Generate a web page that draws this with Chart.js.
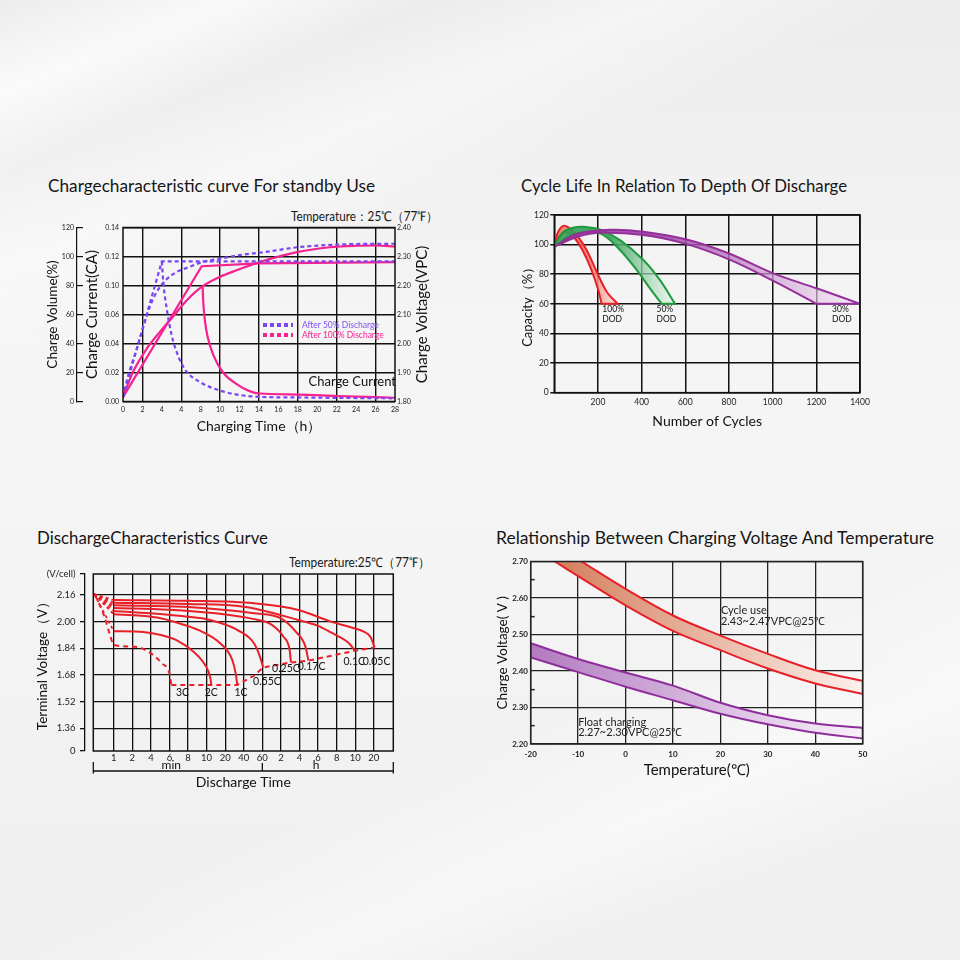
<!DOCTYPE html>
<html><head><meta charset="utf-8">
<script src="https://cdn.jsdelivr.net/npm/chart.js@4.4.1/dist/chart.umd.min.js"></script>
<style>
html,body{margin:0;padding:0;}
body{width:960px;height:960px;position:relative;overflow:hidden;font-family:Lato,'Open Sans',sans-serif;color:#161616;
background:
 linear-gradient(158deg, rgba(255,255,255,0) 0%, rgba(255,255,255,.7) 7%, rgba(255,255,255,0) 13%, rgba(255,255,255,.45) 20%, rgba(255,255,255,0) 28%, rgba(255,255,255,0) 70%, rgba(255,255,255,.5) 80%, rgba(255,255,255,0) 88%),
 linear-gradient(180deg,#ececec 0%, #f5f5f5 35%, #f4f4f4 60%, #efefef 100%);}
canvas{position:absolute;}
.t{position:absolute;white-space:nowrap;line-height:1;transform-origin:0 0;}
.lg{position:absolute;width:30px;height:4px;}
</style></head><body>
<div class="t" data-w="327" style="left:48px;top:176px;font-size:18px">Chargecharacteristic curve For standby Use</div>
<div class="t" data-w="147" style="left:291px;top:210px;font-size:13px">Temperature：25℃（77℉）</div>
<div class="t" data-w="326" style="left:521px;top:176px;font-size:18px">Cycle Life In Relation To Depth Of Discharge</div>
<div class="t" data-w="231" style="left:37px;top:528px;font-size:18px">DischargeCharacteristics Curve</div>
<div class="t" data-w="438" style="left:496px;top:528px;font-size:18px">Relationship Between Charging Voltage And Temperature</div>
<div class="t" data-w="141" style="left:289px;top:556px;font-size:13px">Temperature:25℃（77℉）</div>

<canvas id="c1" width="410" height="230" style="left:30px;top:210px"></canvas>
<canvas id="c2" width="385" height="235" style="left:505px;top:205px"></canvas>
<canvas id="c3" width="410" height="240" style="left:30px;top:560px"></canvas>
<canvas id="c4" width="390" height="240" style="left:490px;top:550px"></canvas>

<div class="lg" style="left:263px;top:323px;background:repeating-linear-gradient(90deg,#7b45f2 0 4px,transparent 4px 7px)"></div>
<div class="t" style="left:302px;top:321px;font-size:8.5px;color:#7f4ff0">After 50% Discharge</div>
<div class="lg" style="left:263px;top:333px;background:repeating-linear-gradient(90deg,#f7208f 0 4px,transparent 4px 7px)"></div>
<div class="t" style="left:302px;top:331px;font-size:8.5px;color:#f7208f">After 100% Discharge</div>

<script>
// ---------- Chart 1: charge characteristic ----------
const c1HourLabels = ['0','2','4','4','8','10','12','14','16','18','20','22','24','26','28'];
const c1GridHours = [2, 6, 10, 14, 18, 22, 26];
const c1CurrentLabels = ['0.00','0.02','0.04','0.06','0.10','0.12','0.14'];
const c1VolumeLabels = ['0','20','40','60','80','100','120'];
const c1VoltageLabels = ['1.80','1.90','2.00','2.10','2.20','2.30','2.40'];

const c1Volt50Hours = [0, 4.0, 28];
const c1Volt50Pct = [3, 96.6, 96.6];
const c1Vol50Hours = [0, 0.5, 1.4, 2.8, 3.8, 5.2, 6.9, 8.1, 10, 12, 14.5, 18, 21.3, 24, 28];
const c1Vol50Pct = [3, 17, 36, 66, 79, 88, 93, 96, 98.5, 101, 103, 106.4, 108, 108.6, 108.8];
const c1Cur50Hours = [4.0, 4.15, 4.5, 5.0, 5.7, 6.5, 7.9, 10, 12, 14, 18, 22, 28];
const c1Cur50Pct = [96.6, 82, 64, 46, 31, 21, 13.5, 7.5, 4.5, 3.2, 2.8, 2.5, 2.2];

const c1Volt100Hours = [0, 8.1, 14, 28];
const c1Volt100Pct = [3, 93.3, 95.2, 96.1];
const c1Vol100Hours = [0, 1, 2.4, 3.8, 5.2, 6.6, 8.1, 10, 11.7, 14, 17.9, 21.3, 24, 26, 28];
const c1Vol100Pct = [3, 20, 36, 48, 59, 70, 79, 86, 90.5, 96, 103, 106.4, 107.4, 107.6, 106.9];
const c1Cur100Hours = [8.2, 8.25, 8.45, 8.7, 9.3, 10.3, 11.7, 12.9, 14, 18, 22, 28];
const c1Cur100Pct = [79, 70, 55, 45, 32, 20, 12, 7.5, 5.5, 4.8, 3.8, 2.6];

// ---------- Chart 2: cycle life ----------
const c2RedOuterX = [0, 18, 41, 64, 102, 148, 194, 240, 290];
const c2RedOuterY = [100.5, 108.7, 112.6, 111.7, 106.5, 96.4, 81.7, 68.2, 60];
const c2RedInnerX = [0, 26, 55, 90, 130, 170, 200, 217];
const c2RedInnerY = [99.5, 106, 108.5, 105, 96, 83, 70, 60];
const c2GreenOuterX = [0, 41, 90, 136, 209, 301, 408, 484, 553];
const c2GreenOuterY = [99, 108.5, 111.5, 112, 110.3, 103, 89.6, 76, 60];
const c2GreenInnerX = [0, 72, 163, 224, 301, 377, 438, 492];
const c2GreenInnerY = [98.5, 105.8, 108.7, 106.5, 96.4, 83, 70.5, 60];
const c2PurpleOuterX = [0, 100, 255, 408, 602, 800, 1003, 1201, 1400];
const c2PurpleOuterY = [98.6, 107, 110, 108.7, 103.6, 94, 80.6, 70.5, 60];
const c2PurpleInnerX = [0, 100, 200, 408, 602, 800, 1003, 1201];
const c2PurpleInnerY = [98.6, 105, 108, 106.5, 100.5, 90, 75.5, 60];
const c2NoteText = ['100%', 'DOD', '50%', 'DOD', '30%', 'DOD'];
const c2NoteX = [220, 220, 468, 468, 1272, 1272];
const c2NoteY = [56.5, 49.3, 56.5, 49.3, 56.5, 49.3];

// ---------- Chart 3: discharge characteristics ----------
const c3TimeLabels = ['1','2','4','6','8','10','20','40','60','2','4','6','8','10','20'];
const c3VoltTicks = [1.36, 1.52, 1.68, 1.84, 2.00, 2.16];
const c3VoltLabels = ['0','1.36','1.52','1.68','1.84','2.00','2.16','(V/cell)'];
const c3Min = 1.2235, c3Max = 2.286;
const c3RateNames = ['0.05C','0.1C','0.17C','0.25C','0.55C','1C','2C'];
const c3RateIdx = [
  [0, 4, 7.55, 9.94, 11.69, 12.8, 13.46, 13.84, 14.04],
  [0, 4, 7, 9.94, 11.0, 11.69, 12.62, 13.0],
  [0, 4, 7.55, 9, 9.8, 10.32, 10.48],
  [0, 3, 5.5, 7.55, 8.45, 9.14, 9.47, 9.54],
  [0, 2, 3.5, 4.77, 5.8, 6.67, 7.55, 7.9, 8.04],
  [0, 1.5, 2.53, 3.8, 4.77, 5.73, 6.38, 6.58, 6.65],
  [0, 1.6, 2.6, 3.4, 4.3, 4.8, 5.1, 5.22, 5.25]
];
const c3RateV = [
  [2.13, 2.125, 2.11, 2.07, 2.0, 1.965, 1.94, 1.905, 1.845],
  [2.114, 2.106, 2.09, 2.01, 1.975, 1.935, 1.875, 1.826],
  [2.098, 2.088, 2.05, 2.02, 1.94, 1.85, 1.766],
  [2.082, 2.072, 2.05, 2.015, 1.985, 1.909, 1.83, 1.755],
  [2.064, 2.05, 2.035, 2.02, 1.99, 1.949, 1.87, 1.78, 1.725],
  [2.044, 2.035, 2.02, 1.98, 1.939, 1.87, 1.77, 1.68, 1.62],
  [1.943, 1.938, 1.918, 1.888, 1.82, 1.76, 1.70, 1.65, 1.62]
];
const c3Rate3CIdx = [-1.0, -0.5, -0.2, 0, 1.17, 2.0, 2.6, 3.0, 3.1];
const c3Rate3CV = [2.16, 2.03, 1.92, 1.86, 1.849, 1.81, 1.749, 1.689, 1.62];
const c3FanIdx = -1.05, c3FanV = 2.165;
const c3CutIdx = [3.1, 5.25, 6.65, 7.05, 7.55, 8.04, 9.54, 10.48, 13.0, 14.04];
const c3CutV = [1.62, 1.62, 1.62, 1.645, 1.675, 1.725, 1.755, 1.766, 1.826, 1.845];
const c3LabelText = ['3C','2C','1C','0.55C','0.25C','0.17C','0.1C','0.05C'];
const c3LabelIdx = [3.7, 5.25, 6.85, 8.25, 9.27, 10.65, 12.95, 14.15];
const c3LabelV = [1.575, 1.575, 1.575, 1.638, 1.719, 1.729, 1.763, 1.763];
const c3UnitLabels = ['min', 'h'];
const c3UnitAt = [3.1, 10.9];
const c3UnitSplit = 8;

// ---------- Chart 4: charging voltage vs temperature ----------
const c4CycleUpperT = [-9.3, 0, 10, 20, 30, 40, 50];
const c4CycleUpperV = [2.70, 2.625, 2.552, 2.497, 2.447, 2.402, 2.373];
const c4CycleLowerT = [-14.9, -10, 0, 10, 20, 30, 40, 50];
const c4CycleLowerV = [2.70, 2.66, 2.58, 2.51, 2.457, 2.407, 2.366, 2.337];
const c4FloatT = [-20, -10, 0, 10, 20, 30, 40, 50];
const c4FloatUpperV = [2.476, 2.433, 2.396, 2.36, 2.313, 2.279, 2.256, 2.244];
const c4FloatLowerV = [2.437, 2.397, 2.357, 2.32, 2.283, 2.254, 2.231, 2.215];
const c4NoteText = ['Cycle use', '2.43~2.47VPC@25℃', 'Float charging', '2.27~2.30VPC@25℃'];
const c4NoteT = [20.1, 20.1, -10, -10];
const c4NoteV = [2.566, 2.536, 2.259, 2.231];

// ---------- helpers ----------
const INK = '#111';
const PINK = '#f7208f', PURPLE = '#7b45f2';
const RED = '#e8202a', GREEN = '#1f9a3e', VIOLET = '#952f9a', FLOATV = '#8e2e9c';
const FONT = "Lato, 'Open Sans', sans-serif";
Chart.defaults.font.family = FONT;
Chart.defaults.color = '#151515';
Chart.defaults.animation = false;
Chart.defaults.plugins.legend.display = false;
Chart.defaults.plugins.tooltip.enabled = false;
Chart.defaults.elements.point.radius = 0;

const fitW = w => s => { s.width = w; };
const fitH = h => s => { s.height = h; };
const pts = (xs, ys) => xs.map((x, i) => ({x, y: ys[i]}));
function band(xa, ya, xb, yb, close) {
  const a = pts(xa, ya), b = pts(xb, yb).reverse();
  const out = [...a, {...a[a.length - 1]}, {...b[0]}, ...b];
  if (close) out.push({...b[b.length - 1]}, {...a[0]});
  return out;
}
function hGrad(x0, x1, c0, c1) {
  return (ctx) => {
    const ch = ctx.chart;
    if (!ch.chartArea) return c1;
    const xs = ch.scales.x;
    const g = ch.ctx.createLinearGradient(xs.getPixelForValue(x0), 0, xs.getPixelForValue(x1), 0);
    g.addColorStop(0, c0); g.addColorStop(1, c1);
    return g;
  };
}
const frame = {
  id: 'frame',
  afterDatasetsDraw(chart, args, o) {
    const {ctx, chartArea: a} = chart;
    ctx.save(); ctx.strokeStyle = o.color || INK; ctx.lineWidth = o.width || 1.5;
    ctx.strokeRect(a.left, a.top, a.right - a.left, a.bottom - a.top);
    ctx.restore();
  }
};
const notes = {
  id: 'notes',
  afterDatasetsDraw(chart, args, o) {
    const {ctx, scales} = chart;
    ctx.save();
    ctx.font = o.font; ctx.fillStyle = o.color || INK;
    ctx.textAlign = o.align || 'left'; ctx.textBaseline = 'middle';
    (o.text || []).forEach((t, i) => {
      ctx.fillText(t, scales.x.getPixelForValue(o.x[i]), scales.y.getPixelForValue(o.y[i]));
    });
    ctx.restore();
  }
};
const sideTitle = {
  id: 'sideTitle',
  afterDraw(chart, args, o) {
    const s = chart.scales[o.scale];
    const {ctx, chartArea: a} = chart;
    ctx.save();
    ctx.translate(s.left + o.offset, (a.top + a.bottom) / 2);
    ctx.rotate(-Math.PI / 2);
    ctx.font = o.font; ctx.fillStyle = INK; ctx.textAlign = 'center'; ctx.textBaseline = 'middle';
    ctx.fillText(o.text, 0, 0);
    ctx.restore();
  }
};
const bracket = {
  id: 'bracket',
  afterDraw(chart, args, o) {
    const {ctx, chartArea: a, scales: {x}} = chart;
    const yb = a.bottom + 20;
    ctx.save(); ctx.strokeStyle = INK; ctx.lineWidth = 1.3;
    ctx.beginPath();
    ctx.moveTo(a.left, yb); ctx.lineTo(a.right, yb);
    ctx.moveTo(a.left, yb - 9); ctx.lineTo(a.left, yb + 2.5);
    ctx.moveTo(a.right, yb - 9); ctx.lineTo(a.right, yb + 2.5);
    const xm = x.getPixelForValue(o.split);
    ctx.moveTo(xm, yb - 8); ctx.lineTo(xm, yb);
    ctx.stroke();
    ctx.font = o.font; ctx.fillStyle = INK; ctx.textAlign = 'center'; ctx.textBaseline = 'middle';
    o.labels.forEach((t, i) => ctx.fillText(t, x.getPixelForValue(o.at[i]), a.bottom + 14));
    ctx.restore();
  }
};
const base = { responsive: false, events: [], maintainAspectRatio: false };

// ---------- build chart 1 ----------
const dash = {borderDash: [4, 3], borderWidth: 2.2, borderColor: PURPLE};
const solid = {borderWidth: 2.2, borderColor: PINK};
new Chart(document.getElementById('c1'), {
  type: 'line',
  data: { datasets: [
    {...dash, data: pts(c1Volt50Hours, c1Volt50Pct), tension: 0},
    {...dash, data: pts(c1Vol50Hours, c1Vol50Pct), cubicInterpolationMode: 'monotone'},
    {...dash, data: pts(c1Cur50Hours, c1Cur50Pct), cubicInterpolationMode: 'monotone'},
    {...solid, data: pts(c1Volt100Hours, c1Volt100Pct), tension: 0},
    {...solid, data: pts(c1Vol100Hours, c1Vol100Pct), cubicInterpolationMode: 'monotone'},
    {...solid, data: pts(c1Cur100Hours, c1Cur100Pct), cubicInterpolationMode: 'monotone'}
  ]},
  options: {
    ...base,
    layout: {padding: {top: 17.5, left: 0, right: 0, bottom: 0}},
    scales: {
      x: {type: 'linear', min: 0, max: 28, afterFit: fitH(38.5),
        ticks: {stepSize: 2, autoSkip: false, maxRotation: 0, padding: 4, font: {size: 7}, color: '#222',
          callback: (v, i) => c1HourLabels[i]},
        grid: {color: c => c1GridHours.includes(c.tick && c.tick.value) ? INK : 'rgba(0,0,0,0)', lineWidth: 1.4, drawTicks: false},
        border: {display: false},
        title: {display: true, text: 'Charging Time（h）', font: {size: 14}, color: INK, padding: {top: 0, bottom: 5}}},
      y: {type: 'linear', position: 'left', min: 0, max: 120, weight: 0, afterFit: fitW(46),
        ticks: {stepSize: 20, padding: 4, font: {size: 7}, color: '#222', callback: (v, i) => c1CurrentLabels[i]},
        grid: {color: INK, lineWidth: 1.4, drawTicks: false}, border: {display: false},
        title: {display: true, text: 'Charge Current(CA)', font: {size: 15}, color: INK, padding: {top: 5.7, bottom: 0}}},
      yVol: {type: 'linear', position: 'left', min: 0, max: 120, weight: 1, afterFit: fitW(47),
        ticks: {stepSize: 20, padding: 9, font: {size: 7}, color: '#222', callback: (v, i) => c1VolumeLabels[i]},
        grid: {drawOnChartArea: false, color: INK, tickLength: -6, lineWidth: 1.2},
        border: {display: true, color: INK, width: 1.2},
        title: {display: true, text: 'Charge Volume(%)', font: {size: 13.5}, color: INK, padding: {top: 14.6, bottom: 0}}},
      yR: {type: 'linear', position: 'right', min: 0, max: 120, afterFit: fitW(45),
        ticks: {stepSize: 20, padding: 2, font: {size: 7}, color: '#222', callback: (v, i) => c1VoltageLabels[i]},
        grid: {drawOnChartArea: false, drawTicks: false}, border: {display: false}}
    },
    plugins: {
      frame: {width: 1.5},
      notes: {font: '13px ' + FONT, align: 'center', text: ['Charge Current'], x: [23.6], y: [13.7]},
      sideTitle: {scale: 'yR', offset: 27, font: '15px ' + FONT, text: 'Charge Voltage(VPC)'}
    }
  },
  plugins: [frame, notes, sideTitle]
});

// ---------- build chart 2 ----------
new Chart(document.getElementById('c2'), {
  type: 'line',
  data: { datasets: [
    {data: band(c2PurpleOuterX, c2PurpleOuterY, c2PurpleInnerX, c2PurpleInnerY), borderColor: VIOLET, borderWidth: 2,
     tension: 0.35, fill: 'shape', backgroundColor: hGrad(450, 1400, 'rgba(150,55,160,0.85)', 'rgba(246,232,247,0.6)')},
    {data: band(c2GreenOuterX, c2GreenOuterY, c2GreenInnerX, c2GreenInnerY), borderColor: GREEN, borderWidth: 2,
     tension: 0.35, fill: 'shape', backgroundColor: hGrad(250, 553, 'rgba(50,160,85,0.9)', 'rgba(232,246,236,0.6)')},
    {data: band(c2RedOuterX, c2RedOuterY, c2RedInnerX, c2RedInnerY), borderColor: RED, borderWidth: 2,
     tension: 0.35, fill: 'shape', backgroundColor: hGrad(150, 290, 'rgba(240,120,100,0.85)', 'rgba(252,225,218,0.8)')}
  ]},
  options: {
    ...base,
    layout: {padding: {top: 10, left: 0, right: 30, bottom: 0}},
    scales: {
      x: {type: 'linear', min: 0, max: 1400, afterFit: fitH(47.3),
        ticks: {stepSize: 200, autoSkip: false, maxRotation: 0, padding: 4, font: {size: 8.5}, color: '#222',
          callback: v => v === 0 ? '' : String(v)},
        grid: {color: INK, lineWidth: 1.5, drawTicks: false}, border: {display: false},
        title: {display: true, text: 'Number of Cycles', font: {size: 14}, color: INK, padding: {top: 0, bottom: 10.6}}},
      y: {type: 'linear', min: 0, max: 120, afterFit: fitW(49.3),
        ticks: {stepSize: 20, padding: 1.5, font: {size: 8.5}, color: '#222'},
        grid: {color: INK, lineWidth: 1.5, tickLength: 4}, border: {display: false},
        title: {display: true, text: 'Capacity（%）', font: {size: 13}, color: INK, padding: {top: 14.7, bottom: 0}}}
    },
    plugins: {
      frame: {width: 1.6},
      notes: {font: '8.5px ' + FONT, text: c2NoteText, x: c2NoteX, y: c2NoteY}
    }
  },
  plugins: [frame, notes]
});

// ---------- build chart 3 ----------
const c3Sets = [];
c3RateIdx.forEach((xs, k) => {
  c3Sets.push({data: pts(xs, c3RateV[k]), borderColor: RED, borderWidth: 2, cubicInterpolationMode: 'monotone'});
  c3Sets.push({data: [{x: c3FanIdx, y: c3FanV}, {x: 0, y: c3RateV[k][0]}], borderColor: RED, borderWidth: 1.8,
    borderDash: [3, 3], tension: 0});
});
c3Sets.push({data: pts(c3Rate3CIdx, c3Rate3CV), borderColor: RED, borderWidth: 2, borderDash: [5, 4], cubicInterpolationMode: 'monotone'});
c3Sets.push({data: pts(c3CutIdx, c3CutV), borderColor: RED, borderWidth: 2, borderDash: [5, 4], tension: 0});
new Chart(document.getElementById('c3'), {
  type: 'line',
  data: {datasets: c3Sets},
  options: {
    ...base,
    layout: {padding: {top: 14, left: 0, right: 46.7, bottom: 0}},
    scales: {
      x: {type: 'linear', min: -1.1, max: 15.05, afterFit: fitH(49),
        afterBuildTicks: s => { s.ticks = c3TimeLabels.map((_, i) => ({value: i})); },
        ticks: {autoSkip: false, maxRotation: 0, padding: 1, font: {size: 9.5}, color: '#222',
          callback: (v, i) => c3TimeLabels[i]},
        grid: {color: INK, lineWidth: 1.3, drawTicks: false}, border: {display: false},
        title: {display: true, text: 'Discharge Time', font: {size: 14}, color: INK, padding: {top: 0, bottom: 9.1}}},
      y: {type: 'linear', position: 'left', min: c3Min, max: c3Max, weight: 0, afterFit: fitW(8.3),
        afterBuildTicks: s => { s.ticks = c3VoltTicks.map(v => ({value: v})); },
        ticks: {display: false}, grid: {color: INK, lineWidth: 1.3, drawTicks: false}, border: {display: false}},
      yLab: {type: 'linear', position: 'left', min: c3Min, max: c3Max, weight: 1, afterFit: fitW(55),
        afterBuildTicks: s => { s.ticks = [c3Min, ...c3VoltTicks, c3Max].map(v => ({value: v})); },
        ticks: {padding: 4.5, font: {size: 9.5}, color: '#222', callback: (v, i) => c3VoltLabels[i]},
        grid: {drawOnChartArea: false, color: INK, tickLength: 5, lineWidth: 1.3},
        border: {display: true, color: INK, width: 1.3},
        title: {display: true, text: 'Terminal Voltage（V）', font: {size: 13.5}, color: INK, padding: {top: 4.9, bottom: 0}}}
    },
    plugins: {
      frame: {width: 1.5},
      notes: {font: '10.5px ' + FONT, align: 'center', text: c3LabelText, x: c3LabelIdx, y: c3LabelV},
      bracket: {split: c3UnitSplit, labels: c3UnitLabels, at: c3UnitAt, font: '12px ' + FONT}
    }
  },
  plugins: [frame, notes, bracket]
});

// ---------- build chart 4 ----------
const isMajor = v => Math.round(v * 100) % 10 === 0;
new Chart(document.getElementById('c4'), {
  type: 'line',
  data: { datasets: [
    {data: band(c4CycleUpperT, c4CycleUpperV, c4CycleLowerT, c4CycleLowerV, false), borderColor: RED, borderWidth: 2,
     tension: 0.35, fill: 'shape', backgroundColor: hGrad(-15, 50, '#d47e5c', '#fcf0eb')},
    {data: band(c4FloatT, c4FloatUpperV, c4FloatT, c4FloatLowerV, true), borderColor: FLOATV, borderWidth: 2,
     tension: 0.35, fill: 'shape', backgroundColor: hGrad(-20, 50, '#b27bc0', '#f9f1fa')}
  ]},
  options: {
    ...base,
    layout: {padding: {top: 10, left: 0, right: 17.3, bottom: 0}},
    scales: {
      x: {type: 'linear', min: -20, max: 50, afterFit: fitH(46),
        ticks: {stepSize: 10, autoSkip: false, maxRotation: 0, padding: 6, font: {size: 8, weight: 'bold'}, color: '#222'},
        grid: {color: '#222', lineWidth: 1.3, drawTicks: false}, border: {display: false},
        title: {display: true, text: 'Temperature(℃)', font: {size: 15}, color: INK, padding: {top: 0, bottom: 11}}},
      y: {type: 'linear', min: 2.2, max: 2.7, afterFit: fitW(40.7),
        ticks: {stepSize: 0.05, autoSkip: false, padding: 6.7, font: {size: 8, weight: 'bold'}, color: '#222',
          callback: v => isMajor(v) ? v.toFixed(2) : ''},
        grid: {color: c => isMajor(c.tick.value) ? '#222' : 'rgba(0,0,0,0)', lineWidth: 1.3, tickLength: -4,
          tickColor: c => isMajor(c.tick.value) ? 'rgba(0,0,0,0)' : '#222', tickWidth: 1.5},
        border: {display: false},
        title: {display: true, text: 'Charge Voltage( V )', font: {size: 13.5}, color: INK, padding: {top: 4.9, bottom: 0}}}
    },
    plugins: {
      frame: {width: 1.5, color: '#222'},
      notes: {font: '11px ' + FONT, color: '#222', text: c4NoteText, x: c4NoteT, y: c4NoteV}
    }
  },
  plugins: [frame, notes]
});

// fit heading widths to the reference
function fitHeadings() {
  document.querySelectorAll('[data-w]').forEach(el => {
    el.style.transform = 'none';
    const w = el.getBoundingClientRect().width;
    if (w > 0) el.style.transform = 'scaleX(' + (parseFloat(el.dataset.w) / w) + ')';
  });
}
fitHeadings();
if (document.fonts && document.fonts.ready) document.fonts.ready.then(fitHeadings);
</script>
</body></html>
